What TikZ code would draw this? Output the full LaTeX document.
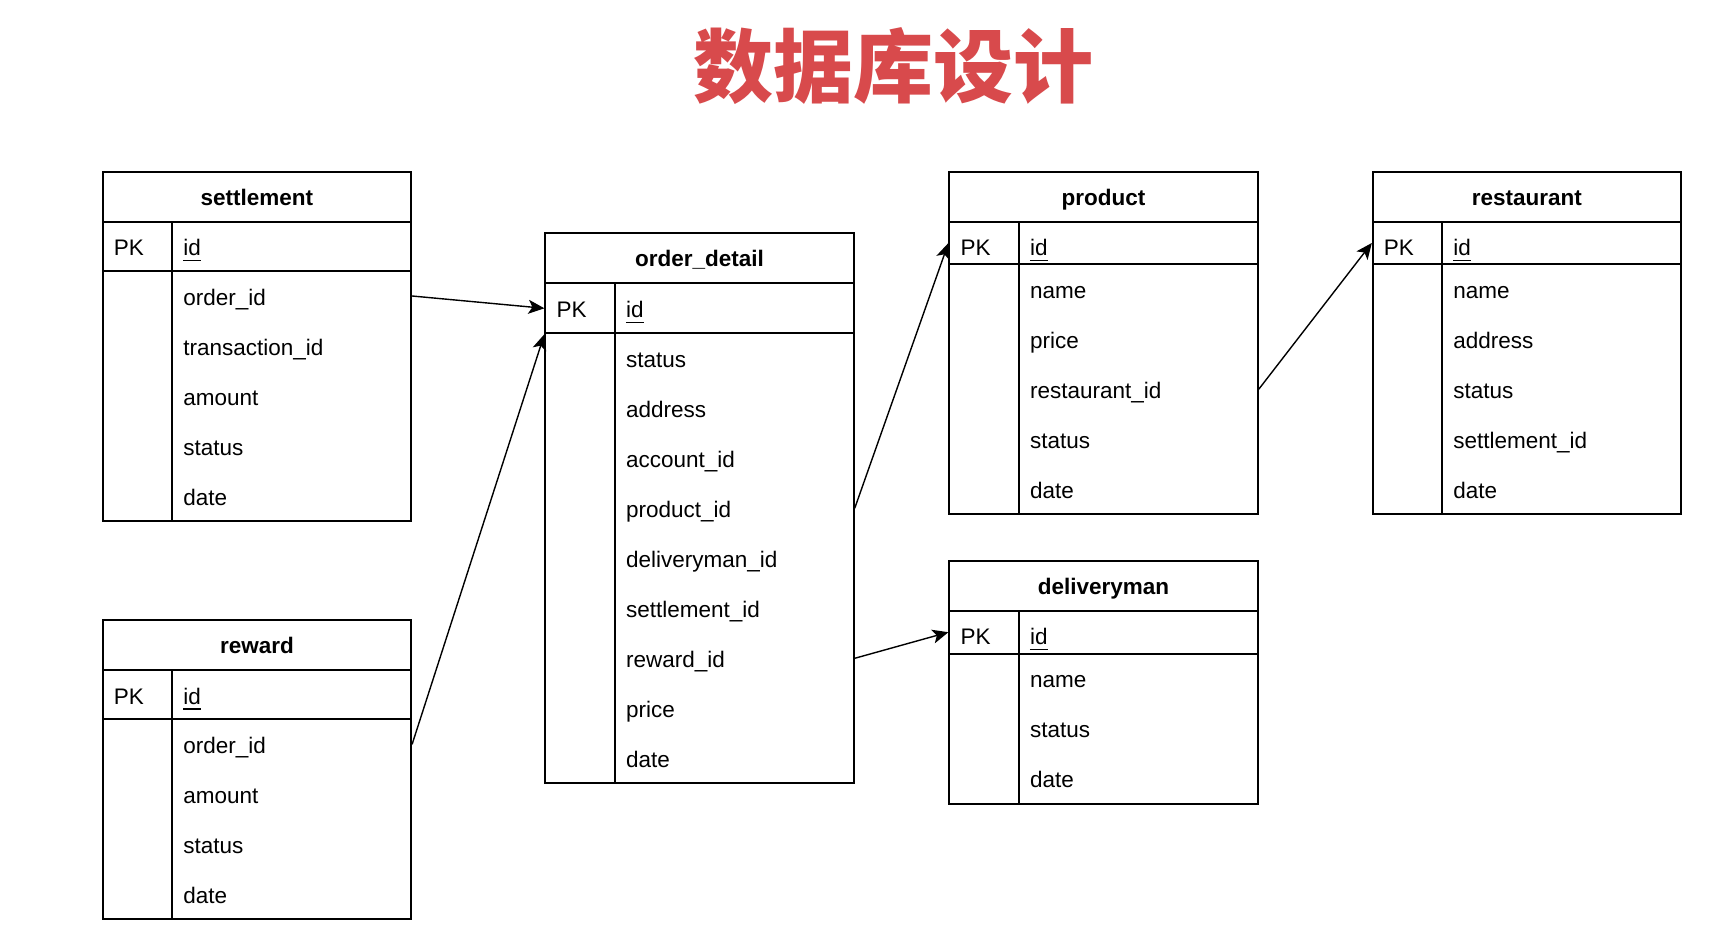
\documentclass[tikz,border=0pt]{standalone}
\usepackage{fontspec}
\setmainfont{Liberation Sans}
\newfontfamily\cjkfont{Noto Sans CJK SC}
\usetikzlibrary{arrows.meta,calc}
\definecolor{titlered}{RGB}{216,74,76}
\newcommand\erdfont{\fontsize{22.5}{27}\selectfont}
\tikzset{
  cellbox/.style={draw, line width=1.8pt, minimum width=308.5pt, inner sep=0pt},
  hdrbox/.style={cellbox, minimum height=50pt, font=\erdfont\bfseries, text height=17pt, text depth=0pt},
  fieldtxt/.style={anchor=west, inner xsep=11pt, inner ysep=0pt, text height=18pt, text depth=0pt},
  idtxt/.style={anchor=base west, inner sep=0pt},
  divline/.style={line width=1.8pt},
  conn/.style={line width=1.4pt, -{Stealth[length=16pt,width=14pt,inset=4pt]}},
}
\newcommand\erdtable[7]{%
  \pgfmathsetmacro\tCx{#2+154.25}%
  \pgfmathsetmacro\tHy{#3+25}%
  \pgfmathsetmacro\tPt{#3+50}%
  \pgfmathsetmacro\tPy{#3+50+#5/2}%
  \pgfmathsetmacro\tPl{#3+75}%
  \pgfmathsetmacro\tBt{#3+50+#5}%
  \pgfmathsetmacro\tBh{#7*50}%
  \pgfmathsetmacro\tBy{\tBt+\tBh/2}%
  \pgfmathsetmacro\tBb{\tBt+\tBh}%
  \pgfmathsetmacro\tDx{#2+69.5}%
  \pgfmathsetmacro\tIx{\tDx+11}%
  \pgfmathsetmacro\tIb{#3+84}%
  \node[hdrbox] (#1-h) at (\tCx,\tHy) {#4};
  \node[cellbox, minimum height=#5pt] (#1-pk) at (\tCx,\tPy) {};
  \node[cellbox, minimum height=\tBh pt] (#1-b) at (\tCx,\tBy) {};
  \draw[divline] (\tDx,\tPt) -- (\tDx,\tBb);
  \node[fieldtxt] (#1-pkl) at (#2,\tPl) {PK};
  \node[idtxt] (#1-id) at (\tIx,\tIb) {id};
  \draw[line width=1.4pt] ([yshift=-5pt]#1-id.base west) -- ([yshift=-5pt]#1-id.base east);
  \foreach \f [count=\i] in {#6} {%
    \pgfmathsetmacro\fy{\tBt+(\i-0.5)*50}%
    \node[fieldtxt] (#1-f\i) at (\tDx,\fy) {\f};
  }%
}
\begin{document}
\begin{tikzpicture}[x=1pt,y=-1pt,font=\erdfont]
\fill[white] (0,0) rectangle (1710,928);
\useasboundingbox (0,0) rectangle (1710,928);
\node[font=\cjkfont\bfseries\fontsize{80}{90}\selectfont, text=titlered, anchor=base, inner sep=0pt] (title) at (893,97) {数据库设计};
\erdtable{settlement}{102.7}{171.7}{settlement}{49.3}{order\_id,transaction\_id,amount,status,date}{5}
\erdtable{reward}{102.7}{620}{reward}{49.3}{order\_id,amount,status,date}{4}
\erdtable{order}{545.3}{233.3}{order\_detail}{50}{status,address,account\_id,product\_id,deliveryman\_id,settlement\_id,reward\_id,price,date}{9}
\erdtable{product}{949.3}{171.7}{product}{42.6}{name,price,restaurant\_id,status,date}{5}
\erdtable{restaurant}{1372.7}{171.7}{restaurant}{42.6}{name,address,status,settlement\_id,date}{5}
\erdtable{deliveryman}{949.3}{560.7}{deliveryman}{43}{name,status,date}{3}
\draw[conn] (settlement-b.east |- settlement-f1.west) -- (order-pk.west);
\draw[conn] (reward-b.east |- reward-f1.west) -- (order-pk.south west);
\draw[conn] (order-b.east |- order-f4.west) -- (product-pk.west);
\draw[conn] (product-b.east |- product-f3.west) -- (restaurant-pk.west);
\draw[conn] (order-b.east |- order-f7.west) -- (deliveryman-pk.west);
\end{tikzpicture}
\end{document}
